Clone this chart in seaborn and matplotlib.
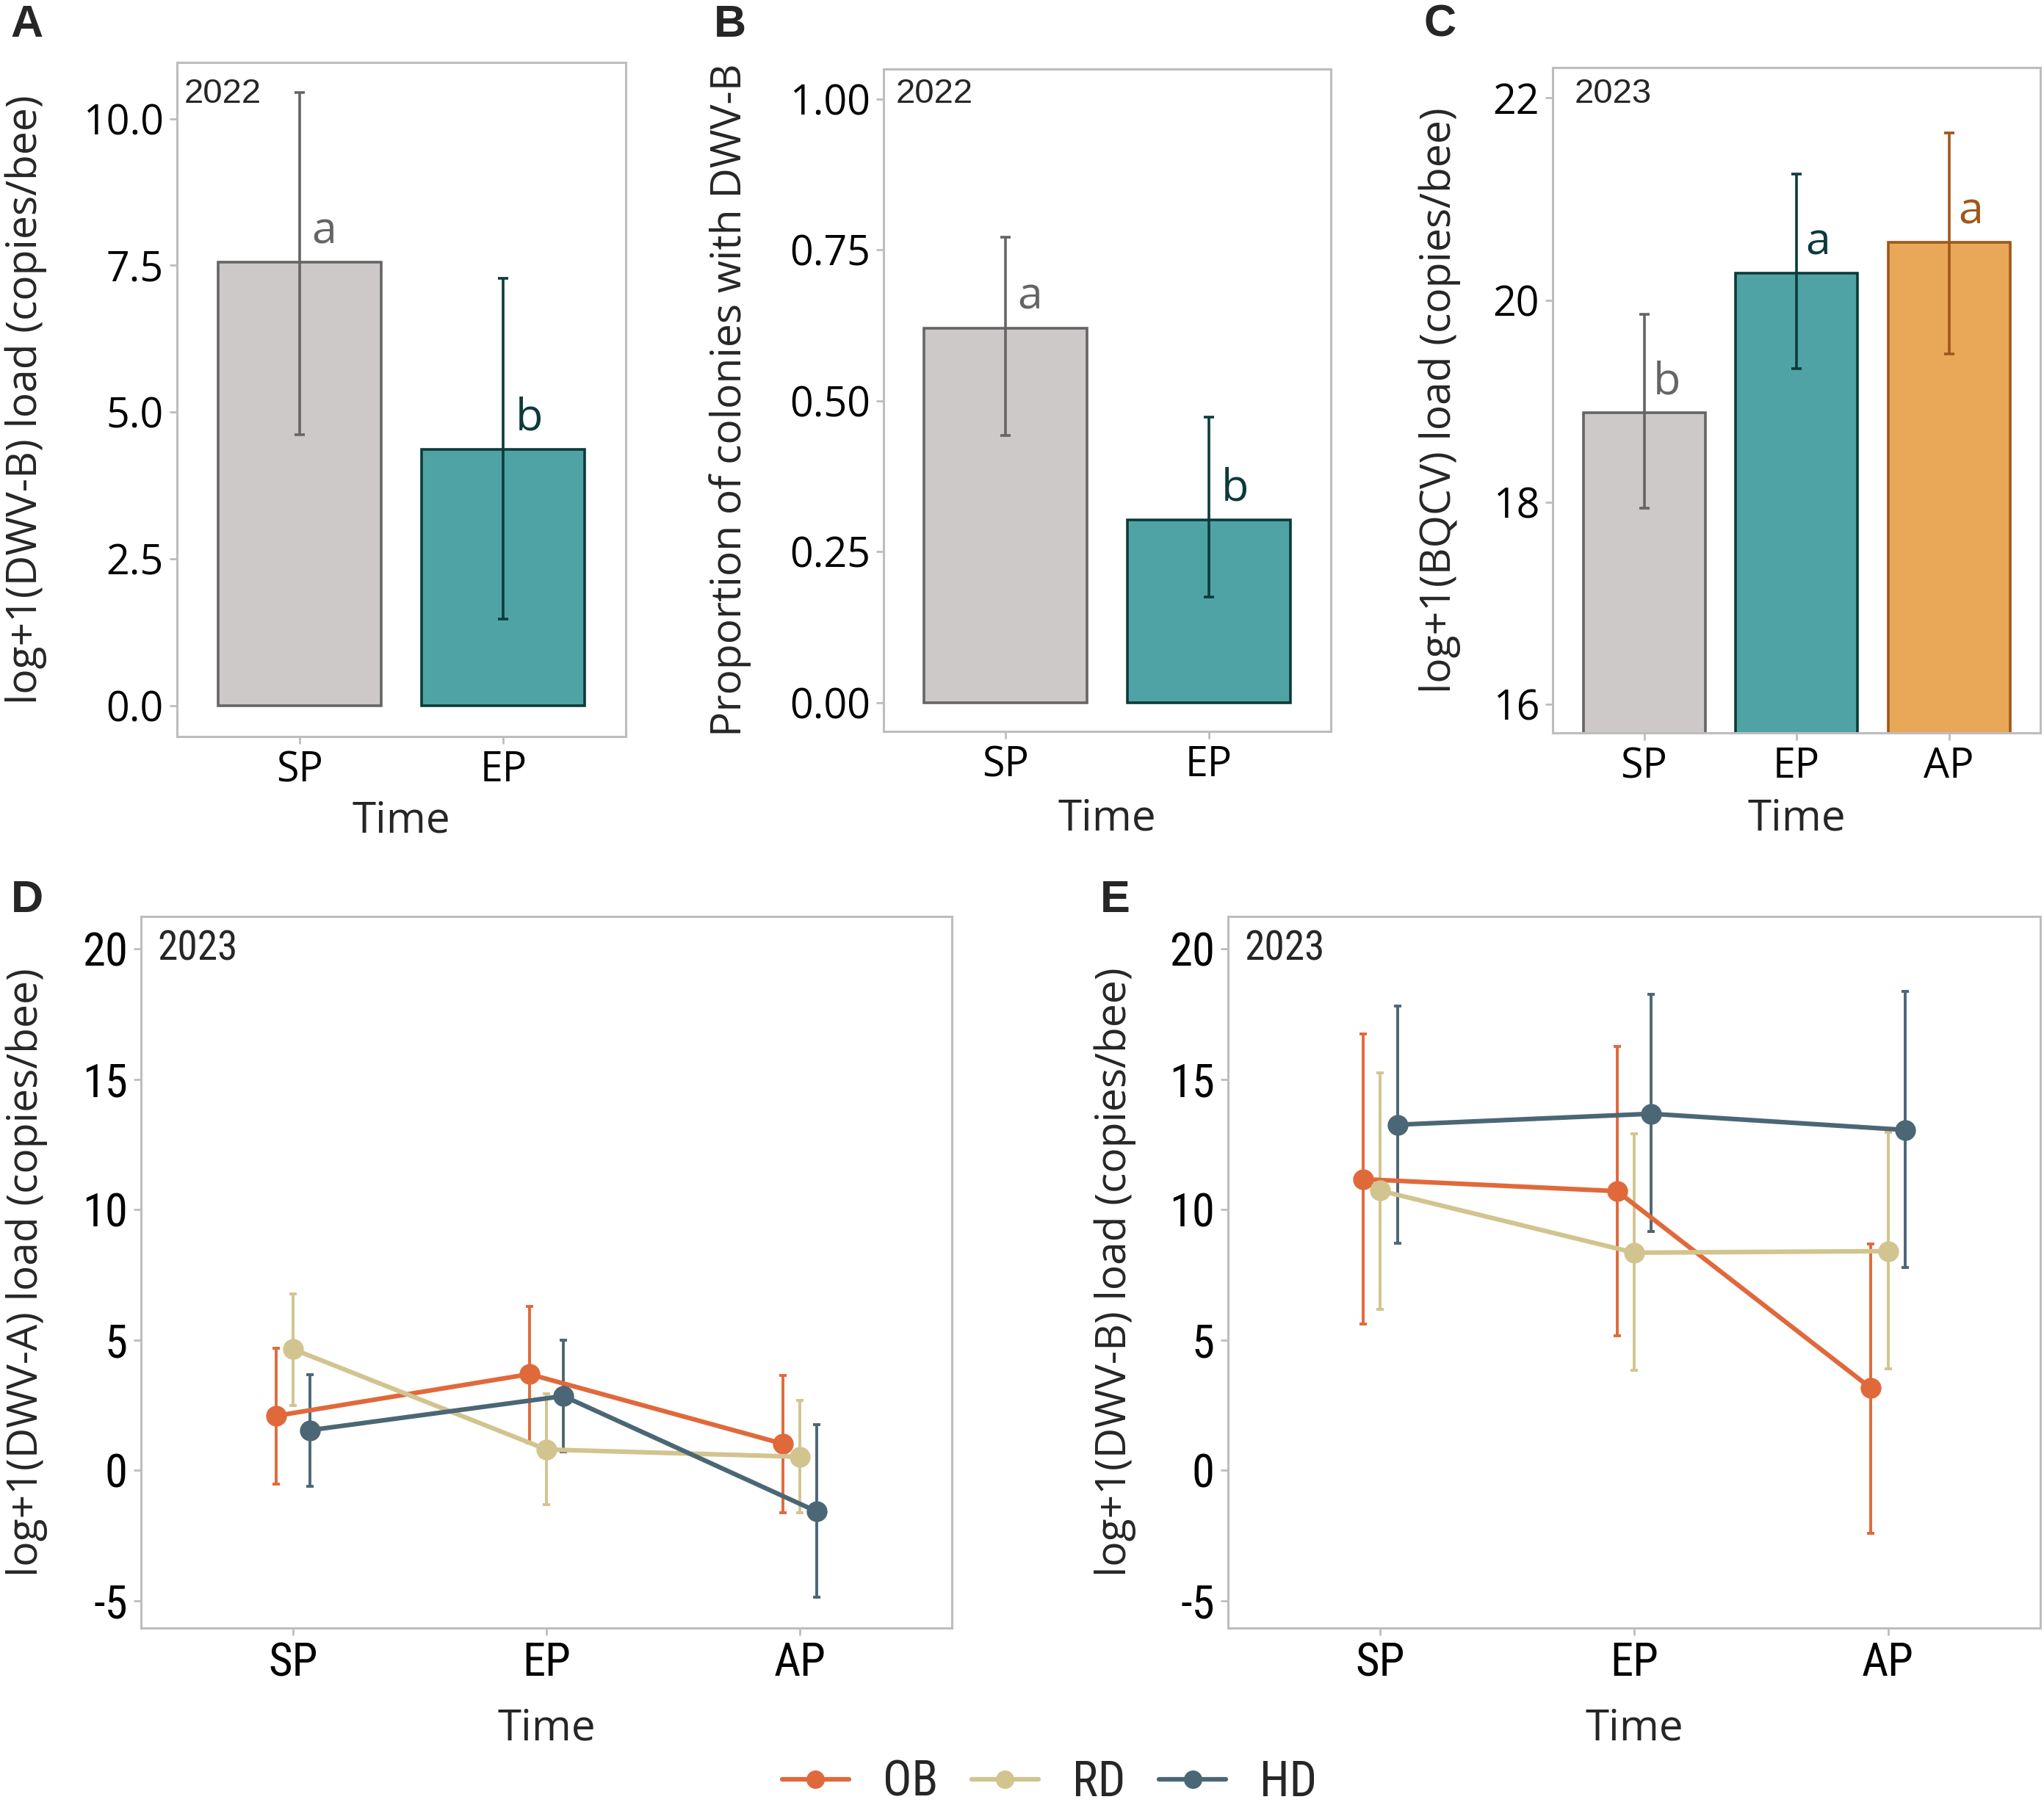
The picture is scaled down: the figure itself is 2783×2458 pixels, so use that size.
import numpy as np
import pandas as pd
import matplotlib
matplotlib.use("Agg")
import matplotlib.pyplot as plt
from matplotlib import font_manager as fm
from matplotlib.lines import Line2D
import seaborn as sns

# ---------------- data ----------------
times_ab = ["SP", "EP"]
dwvb22_mean = [7.55, 4.37]
dwvb22_lo = [4.62, 1.47]
dwvb22_hi = [10.45, 7.28]
dwvb22_letters = ["a", "b"]

prop_mean = [0.620, 0.302]
prop_lo = [0.443, 0.175]
prop_hi = [0.771, 0.473]
prop_letters = ["a", "b"]

times_c = ["SP", "EP", "AP"]
bqcv_mean = [18.89, 20.27, 20.57]
bqcv_lo = [17.94, 19.32, 19.47]
bqcv_hi = [19.86, 21.25, 21.65]
bqcv_letters = ["b", "a", "a"]

groups = ["OB", "RD", "HD"]
times_de = ["SP", "EP", "AP"]

dwva_mean_OB = [2.09, 3.69, 1.02]
dwva_lo_OB = [-0.54, 1.06, -1.62]
dwva_hi_OB = [4.69, 6.30, 3.63]
dwva_mean_RD = [4.65, 0.80, 0.52]
dwva_lo_RD = [2.49, -1.32, -1.62]
dwva_hi_RD = [6.78, 2.95, 2.67]
dwva_mean_HD = [1.54, 2.85, -1.58]
dwva_lo_HD = [-0.60, 0.70, -4.87]
dwva_hi_HD = [3.67, 4.98, 1.75]

dwvb23_mean_OB = [11.17, 10.71, 3.15]
dwvb23_lo_OB = [5.62, 5.16, -2.41]
dwvb23_hi_OB = [16.75, 16.27, 8.69]
dwvb23_mean_RD = [10.73, 8.35, 8.41]
dwvb23_lo_RD = [6.18, 3.83, 3.89]
dwvb23_hi_RD = [15.25, 12.90, 12.96]
dwvb23_mean_HD = [13.26, 13.68, 13.06]
dwvb23_lo_HD = [8.71, 9.15, 7.78]
dwvb23_hi_HD = [17.81, 18.27, 18.37]

# ---------------- style ----------------
bar_fill = {"SP": "#CDC9C8", "EP": "#4FA3A5", "AP": "#E9A857"}
bar_edge = {"SP": "#656565", "EP": "#0C3B3A", "AP": "#A0561A"}
grp_col = {"OB": "#E0693B", "RD": "#D2C48F", "HD": "#4B6775"}

sns.set_theme(style="white")


def has_font(name):
    try:
        fm.findfont(fm.FontProperties(family=name), fallback_to_default=False)
        return True
    except Exception:
        return False


MAIN = "Open Sans" if has_font("Open Sans") else "DejaVu Sans"
NARROW = "Lato"
NARROW_SCALE = 0.85
for cand, sc in [("Liberation Sans Narrow", 1.15), ("Roboto Condensed", 1.05),
                 ("Open Sans Condensed", 1.05), ("DejaVu Sans Condensed", 0.93)]:
    if has_font(cand):
        NARROW, NARROW_SCALE = cand, sc
        break
YEARFONT = "Liberation Sans" if has_font("Liberation Sans") else MAIN
plt.rcParams["font.family"] = [MAIN, "DejaVu Sans"]

SPINE = "#BDBDBD"
W, H = 2783, 2458
fig = plt.figure(figsize=(W / 100, H / 100), dpi=100)


def axes_px(l, t, r, b):
    return fig.add_axes([l / W, 1 - b / H, (r - l) / W, (b - t) / H])


def style_axes(ax, tickfont, ticksize):
    for s in ax.spines.values():
        s.set_visible(True)
        s.set_color(SPINE)
        s.set_linewidth(2.2)
    ax.tick_params(axis="both", which="both", length=7, width=2, color=SPINE,
                   direction="out", labelsize=ticksize, labelcolor="black", pad=6,
                   left=True, bottom=True)
    for lab in ax.get_xticklabels() + ax.get_yticklabels():
        lab.set_family(tickfont)
    ax.grid(False)


def set_labels(ax, ylabel, ylab_x, xlab_y):
    ax.set_xlabel("Time", fontsize=42, family=MAIN, va="center")
    ax.set_ylabel(ylabel, fontsize=41, family=MAIN, va="center")
    ax.yaxis.set_label_coords(ylab_x, 0.5)
    ax.xaxis.set_label_coords(0.5, xlab_y)


def bar_panel(ax, times, mean, lo, hi, letters, ylim, yticks, ytlabels, ylabel, year,
              nudge, year_x, year_y, ylab_x, xlab_y):
    df = pd.DataFrame({"Time": times, "value": mean})
    sns.barplot(data=df, x="Time", y="value", hue="Time", order=times, hue_order=times,
                palette=bar_fill, saturation=1, legend=False, width=0.8, errorbar=None,
                ax=ax, linewidth=2.6)
    for cont, t in zip(ax.containers, times):
        for p in cont:
            p.set_edgecolor(bar_edge[t])
            p.set_facecolor(bar_fill[t])
            p.set_linewidth(2.6)
            xc = p.get_x() + p.get_width() / 2
            i = times.index(t)
            ax.errorbar([xc], [mean[i]], yerr=[[mean[i] - lo[i]], [hi[i] - mean[i]]],
                        fmt="none", ecolor=bar_edge[t], elinewidth=2.6, capsize=5,
                        capthick=2.6, zorder=3)
            ax.text(xc + 0.06, mean[i] + nudge, letters[i], color=bar_edge[t],
                    fontsize=44, ha="left", va="center", family=MAIN)
    ax.set_xlim(-0.6, len(times) - 0.4)
    ax.set_ylim(*ylim)
    ax.set_yticks(yticks)
    ax.set_yticklabels(ytlabels)
    ax.text(year_x, year_y, year, transform=ax.transAxes, fontsize=34, ha="left",
            va="center", family=YEARFONT)
    style_axes(ax, MAIN, 40)
    set_labels(ax, ylabel, ylab_x, xlab_y)


# Panel A
axA = axes_px(241, 85, 852, 1003)
bar_panel(axA, times_ab, dwvb22_mean, dwvb22_lo, dwvb22_hi, dwvb22_letters,
          (-0.53, 10.96), [0, 2.5, 5, 7.5, 10], ["0.0", "2.5", "5.0", "7.5", "10.0"],
          "log+1(DWV-B) load (copies/bee)", "2022", 0.52, 0.015, 0.953, -0.336, -0.125)

# Panel B
axB = axes_px(1203, 94, 1812, 996)
bar_panel(axB, times_ab, prop_mean, prop_lo, prop_hi, prop_letters,
          (-0.048, 1.05), [0, 0.25, 0.5, 0.75, 1.0], ["0.00", "0.25", "0.50", "0.75", "1.00"],
          "Proportion of colonies with DWV-B", "2022", 0.052, 0.028, 0.962, -0.343, -0.132)

# Panel C
axC = axes_px(2114, 92, 2778, 998)
bar_panel(axC, times_c, bqcv_mean, bqcv_lo, bqcv_hi, bqcv_letters,
          (15.72, 22.3), [16, 18, 20, 22], ["16", "18", "20", "22"],
          "log+1(BQCV) load (copies/bee)", "2023", 0.30, 0.045, 0.96, -0.232, -0.129)


def point_panel(ax, means, los, his, ylabel, ylab_x):
    rows = []
    for g in groups:
        for t, v in zip(times_de, means[g]):
            rows.append({"Time": t, "Group": g, "value": v})
    df = pd.DataFrame(rows)
    n0 = len(ax.lines)
    sns.pointplot(data=df, x="Time", y="value", hue="Group", order=times_de,
                  hue_order=groups, palette=grp_col, dodge=0.134, errorbar=None,
                  markers="o", markersize=17, linewidth=4.5, legend=False, ax=ax)
    lines = ax.lines[n0:n0 + len(groups)]
    for g, ln in zip(groups, lines):
        ln.set_zorder(4)
        xs = np.asarray(ln.get_xdata(), dtype=float)
        m = np.array(means[g])
        ax.errorbar(xs, m, yerr=[m - np.array(los[g]), np.array(his[g]) - m], fmt="none",
                    ecolor=grp_col[g], elinewidth=2.8, capsize=3.5, capthick=2.8, zorder=3)
    ax.set_xlim(-0.6, 2.6)
    ax.set_ylim(-6.05, 21.25)
    ax.set_yticks([-5, 0, 5, 10, 15, 20])
    ax.set_yticklabels(["-5", "0", "5", "10", "15", "20"])
    ax.text(0.02, 0.955, "2023", transform=ax.transAxes, fontsize=38 * NARROW_SCALE,
            ha="left", va="center", family=NARROW)
    style_axes(ax, NARROW, 43 * NARROW_SCALE)
    set_labels(ax, ylabel, ylab_x, -0.142)


axD = axes_px(192, 1248, 1296, 2217)
point_panel(axD,
            {"OB": dwva_mean_OB, "RD": dwva_mean_RD, "HD": dwva_mean_HD},
            {"OB": dwva_lo_OB, "RD": dwva_lo_RD, "HD": dwva_lo_HD},
            {"OB": dwva_hi_OB, "RD": dwva_hi_RD, "HD": dwva_hi_HD},
            "log+1(DWV-A) load (copies/bee)", -0.141)

axE = axes_px(1672, 1248, 2778, 2217)
point_panel(axE,
            {"OB": dwvb23_mean_OB, "RD": dwvb23_mean_RD, "HD": dwvb23_mean_HD},
            {"OB": dwvb23_lo_OB, "RD": dwvb23_lo_RD, "HD": dwvb23_lo_HD},
            {"OB": dwvb23_hi_OB, "RD": dwvb23_hi_RD, "HD": dwvb23_hi_HD},
            "log+1(DWV-B) load (copies/bee)", -0.139)

# Legend
handles = [Line2D([0], [0], color=grp_col[g], lw=4.5, marker="o", markersize=17)
           for g in groups]
leg_size = 45 * NARROW_SCALE
fig.legend(handles, groups, loc="center", bbox_to_anchor=(1429 / W, 1 - 2428 / H),
           ncol=3, frameon=False, handlelength=91 / (leg_size * 100 / 72),
           handletextpad=0.7, columnspacing=0.7, prop={"family": NARROW, "size": leg_size})

# Panel letters
for letter, (x, y) in {"A": (37, 34), "B": (994, 34), "C": (1961, 34),
                       "D": (37, 1226), "E": (1518, 1226)}.items():
    fig.text(x / W, 1 - y / H, letter, fontsize=44, fontweight="bold",
             family=["Liberation Sans", "DejaVu Sans"], ha="center", va="center")

fig.savefig("out.png", dpi=100)
